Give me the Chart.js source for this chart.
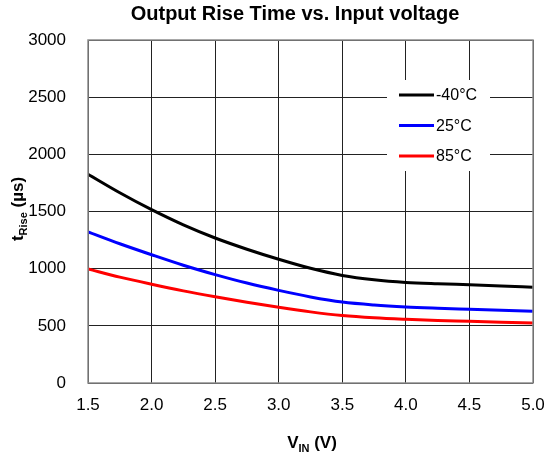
<!DOCTYPE html>
<html>
<head>
<meta charset="utf-8">
<script src="https://cdn.jsdelivr.net/npm/chart.js@4"></script>
<style>
  html, body { margin: 0; padding: 0; background: #fff; }
</style>
</head>
<body>
<canvas id="chart" width="544" height="459"></canvas>
<script>
// values
var voltages = [1.5, 1.75, 2.0, 2.25, 2.5, 2.75, 3.0, 3.25, 3.5, 3.75, 4.0, 4.25, 4.5, 4.75, 5.0];
var riseM40 = [1826, 1664, 1516, 1383, 1268, 1170, 1082, 1003, 941, 903, 880, 868, 859, 849, 838];
var rise25 = [1322, 1218, 1122, 1030, 948, 874, 810, 753, 708, 682, 665, 654, 645, 636, 627];
var rise85 = [997, 926, 864, 806, 754, 706, 662, 622, 590, 570, 557, 547, 540, 532, 525];
var seriesNames = ["-40°C", "25°C", "85°C"];
var seriesColors = ["#000000", "#0000ff", "#ff0000"];

var FONT = "Liberation Sans, Arial, sans-serif";

function pts(ys) {
    return voltages.map(function (v, i) { return { x: v, y: ys[i] }; });
}

function drawSub(ctx, main, sub, rest, x, y, size) {
    // draws main + subscript + rest, centred on x
    var subSize = Math.round(size * 0.65);
    ctx.font = "bold " + size + "px " + FONT;
    var w1 = ctx.measureText(main).width;
    var w3 = ctx.measureText(rest).width;
    ctx.font = "bold " + subSize + "px " + FONT;
    var w2 = ctx.measureText(sub).width;
    var x0 = x - (w1 + w2 + w3) / 2;
    ctx.textAlign = "left";
    ctx.textBaseline = "alphabetic";
    ctx.font = "bold " + size + "px " + FONT;
    ctx.fillText(main, x0, y);
    ctx.font = "bold " + subSize + "px " + FONT;
    ctx.fillText(sub, x0 + w1, y + 4);
    ctx.font = "bold " + size + "px " + FONT;
    ctx.fillText(rest, x0 + w1 + w2, y);
}

var decor = {
    id: "decor",
    afterDraw: function (chart) {
        var ctx = chart.ctx;
        var a = chart.chartArea;
        ctx.save();
        ctx.fillStyle = "#000";

        // title
        ctx.font = "bold 20px " + FONT;
        ctx.textAlign = "center";
        ctx.textBaseline = "middle";
        ctx.fillText("Output Rise Time vs. Input voltage", 295, 14);

        // axis titles
        drawSub(ctx, "V", "IN", " (V)", 312, 448, 17);
        ctx.save();
        ctx.translate(18, 209);
        ctx.rotate(-Math.PI / 2);
        drawSub(ctx, "t", "Rise", " (µs)", 0, 5, 17);
        ctx.restore();

        // plot border
        ctx.strokeStyle = "#8c8c8c";
        ctx.lineWidth = 1.5;
        ctx.strokeRect(a.left, a.top, a.right - a.left, a.bottom - a.top);

        // legend inside the plot
        ctx.fillStyle = "#fff";
        ctx.fillRect(387, 80, 103, 91);
        ctx.font = "16px " + FONT;
        ctx.textAlign = "left";
        ctx.textBaseline = "middle";
        for (var i = 0; i < seriesNames.length; i++) {
            var y = 95 + i * 30.5;
            ctx.strokeStyle = seriesColors[i];
            ctx.lineWidth = 3;
            ctx.beginPath();
            ctx.moveTo(399, y);
            ctx.lineTo(434, y);
            ctx.stroke();
            ctx.fillStyle = "#000";
            ctx.fillText(seriesNames[i], 436, y + 1);
        }
        ctx.restore();
    }
};

var ctx = document.getElementById("chart").getContext("2d");

var datasets = [riseM40, rise25, rise85].map(function (ys, i) {
    return {
        label: seriesNames[i],
        data: pts(ys),
        borderColor: seriesColors[i],
        borderWidth: 3,
        pointRadius: 0,
        fill: false,
        cubicInterpolationMode: "monotone"
    };
});

new Chart(ctx, {
    type: "line",
    data: { datasets: datasets },
    options: {
        responsive: false,
        animation: false,
        layout: { padding: { left: 0, right: 11, top: 40, bottom: 0 } },
        plugins: {
            legend: { display: false },
            title: { display: false },
            tooltip: { enabled: false }
        },
        scales: {
            x: {
                type: "linear",
                min: 1.5,
                max: 5.0,
                afterFit: function (s) {
                    s.height = 76;
                    s.paddingLeft = 0;
                    s.paddingRight = 0;
                },
                ticks: {
                    stepSize: 0.5,
                    padding: 12,
                    color: "#000",
                    font: { family: FONT, size: 17 },
                    callback: function (v) { return v.toFixed(1); }
                },
                grid: { color: "#222", lineWidth: 1, drawTicks: false },
                border: { display: false }
            },
            y: {
                min: 0,
                max: 3000,
                afterFit: function (s) { s.width = 88; },
                ticks: {
                    stepSize: 500,
                    padding: 22,
                    color: "#000",
                    font: { family: FONT, size: 17 },
                    callback: function (v) { return String(v); }
                },
                grid: { color: "#222", lineWidth: 1, drawTicks: false },
                border: { display: false }
            }
        }
    },
    plugins: [decor]
});
</script>
</body>
</html>
